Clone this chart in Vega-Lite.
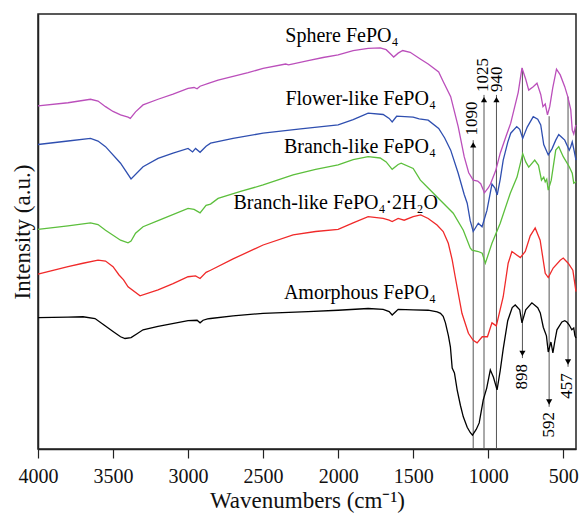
{
  "$schema": "https://vega.github.io/schema/vega-lite/v6.json",
  "autosize": {"type": "none"},
  "width": 538,
  "height": 435,
  "padding": {"left": 38, "top": 14, "right": 3, "bottom": 66},
  "background": "white",
  "config": {
    "view": {"stroke": "#222", "strokeWidth": 1.5},
    "font": "Liberation Serif"
  },
  "datasets": {
    "curves": [
      {"s":"Sphere","wn":4000,"v":78.9},{"s":"Sphere","wn":3800,"v":79.6},{"s":"Sphere","wn":3650,"v":80.4},{"s":"Sphere","wn":3600,"v":80.0},{"s":"Sphere","wn":3550,"v":78.7},{"s":"Sphere","wn":3500,"v":77.6},{"s":"Sphere","wn":3450,"v":76.8},{"s":"Sphere","wn":3400,"v":76.3},{"s":"Sphere","wn":3385,"v":76.0},{"s":"Sphere","wn":3350,"v":77.5},{"s":"Sphere","wn":3300,"v":79.1},{"s":"Sphere","wn":3200,"v":80.4},{"s":"Sphere","wn":3100,"v":81.6},{"s":"Sphere","wn":3000,"v":82.9},{"s":"Sphere","wn":2960,"v":83.1},{"s":"Sphere","wn":2940,"v":82.8},{"s":"Sphere","wn":2920,"v":83.4},{"s":"Sphere","wn":2860,"v":84.1},{"s":"Sphere","wn":2800,"v":84.8},{"s":"Sphere","wn":2600,"v":86.5},{"s":"Sphere","wn":2500,"v":87.5},{"s":"Sphere","wn":2350,"v":88.5},{"s":"Sphere","wn":2330,"v":88.3},{"s":"Sphere","wn":2200,"v":89.3},{"s":"Sphere","wn":2100,"v":90.0},{"s":"Sphere","wn":2000,"v":90.6},{"s":"Sphere","wn":1900,"v":91.6},{"s":"Sphere","wn":1800,"v":92.1},{"s":"Sphere","wn":1720,"v":92.2},{"s":"Sphere","wn":1680,"v":91.8},{"s":"Sphere","wn":1650,"v":90.8},{"s":"Sphere","wn":1630,"v":90.1},{"s":"Sphere","wn":1600,"v":91.0},{"s":"Sphere","wn":1570,"v":91.6},{"s":"Sphere","wn":1520,"v":91.2},{"s":"Sphere","wn":1450,"v":89.6},{"s":"Sphere","wn":1400,"v":88.5},{"s":"Sphere","wn":1330,"v":86.7},{"s":"Sphere","wn":1300,"v":84.5},{"s":"Sphere","wn":1250,"v":81.0},{"s":"Sphere","wn":1200,"v":74.1},{"s":"Sphere","wn":1160,"v":67.2},{"s":"Sphere","wn":1130,"v":63.5},{"s":"Sphere","wn":1100,"v":61.8},{"s":"Sphere","wn":1070,"v":61.6},{"s":"Sphere","wn":1050,"v":61.0},{"s":"Sphere","wn":1025,"v":58.9},{"s":"Sphere","wn":1000,"v":60.0},{"s":"Sphere","wn":985,"v":60.9},{"s":"Sphere","wn":950,"v":64.0},{"s":"Sphere","wn":920,"v":68.0},{"s":"Sphere","wn":880,"v":72.0},{"s":"Sphere","wn":850,"v":74.9},{"s":"Sphere","wn":800,"v":82.0},{"s":"Sphere","wn":775,"v":87.6},{"s":"Sphere","wn":750,"v":85.0},{"s":"Sphere","wn":730,"v":82.5},{"s":"Sphere","wn":700,"v":83.3},{"s":"Sphere","wn":675,"v":84.1},{"s":"Sphere","wn":650,"v":81.5},{"s":"Sphere","wn":635,"v":78.7},{"s":"Sphere","wn":620,"v":79.3},{"s":"Sphere","wn":605,"v":76.8},{"s":"Sphere","wn":590,"v":78.7},{"s":"Sphere","wn":570,"v":83.0},{"s":"Sphere","wn":545,"v":87.3},{"s":"Sphere","wn":520,"v":86.0},{"s":"Sphere","wn":490,"v":83.3},{"s":"Sphere","wn":470,"v":81.0},{"s":"Sphere","wn":450,"v":78.0},{"s":"Sphere","wn":440,"v":73.3},{"s":"Sphere","wn":430,"v":72.4},{"s":"Sphere","wn":420,"v":74.0},{"s":"Sphere","wn":415,"v":74.5},

      {"s":"Flower","wn":4000,"v":70.0},{"s":"Flower","wn":3800,"v":70.8},{"s":"Flower","wn":3650,"v":71.4},{"s":"Flower","wn":3600,"v":70.8},{"s":"Flower","wn":3550,"v":69.5},{"s":"Flower","wn":3450,"v":65.7},{"s":"Flower","wn":3380,"v":62.1},{"s":"Flower","wn":3300,"v":64.9},{"s":"Flower","wn":3200,"v":66.8},{"s":"Flower","wn":3100,"v":68.0},{"s":"Flower","wn":3000,"v":69.1},{"s":"Flower","wn":2970,"v":68.3},{"s":"Flower","wn":2950,"v":69.1},{"s":"Flower","wn":2920,"v":68.2},{"s":"Flower","wn":2880,"v":69.6},{"s":"Flower","wn":2850,"v":70.3},{"s":"Flower","wn":2700,"v":71.4},{"s":"Flower","wn":2500,"v":72.6},{"s":"Flower","wn":2250,"v":73.6},{"s":"Flower","wn":2000,"v":74.5},{"s":"Flower","wn":1900,"v":75.7},{"s":"Flower","wn":1800,"v":77.2},{"s":"Flower","wn":1700,"v":76.9},{"s":"Flower","wn":1660,"v":76.0},{"s":"Flower","wn":1640,"v":75.2},{"s":"Flower","wn":1610,"v":76.5},{"s":"Flower","wn":1500,"v":76.3},{"s":"Flower","wn":1460,"v":75.9},{"s":"Flower","wn":1400,"v":75.6},{"s":"Flower","wn":1330,"v":73.7},{"s":"Flower","wn":1290,"v":71.5},{"s":"Flower","wn":1250,"v":68.7},{"s":"Flower","wn":1200,"v":63.4},{"s":"Flower","wn":1160,"v":58.5},{"s":"Flower","wn":1140,"v":56.5},{"s":"Flower","wn":1120,"v":52.5},{"s":"Flower","wn":1100,"v":50.0},{"s":"Flower","wn":1066,"v":51.9},{"s":"Flower","wn":1041,"v":51.1},{"s":"Flower","wn":1008,"v":54.9},{"s":"Flower","wn":975,"v":60.9},{"s":"Flower","wn":955,"v":60.0},{"s":"Flower","wn":940,"v":58.4},{"s":"Flower","wn":920,"v":62.0},{"s":"Flower","wn":900,"v":66.4},{"s":"Flower","wn":870,"v":70.5},{"s":"Flower","wn":850,"v":72.6},{"s":"Flower","wn":810,"v":74.1},{"s":"Flower","wn":790,"v":73.5},{"s":"Flower","wn":770,"v":71.4},{"s":"Flower","wn":740,"v":74.0},{"s":"Flower","wn":700,"v":76.4},{"s":"Flower","wn":670,"v":75.8},{"s":"Flower","wn":650,"v":74.5},{"s":"Flower","wn":630,"v":70.0},{"s":"Flower","wn":600,"v":67.6},{"s":"Flower","wn":575,"v":69.0},{"s":"Flower","wn":550,"v":71.0},{"s":"Flower","wn":530,"v":72.3},{"s":"Flower","wn":505,"v":71.5},{"s":"Flower","wn":490,"v":71.0},{"s":"Flower","wn":460,"v":68.7},{"s":"Flower","wn":450,"v":69.5},{"s":"Flower","wn":440,"v":70.6},{"s":"Flower","wn":430,"v":69.0},{"s":"Flower","wn":415,"v":66.4},

      {"s":"Branch","wn":4000,"v":50.5},{"s":"Branch","wn":3800,"v":51.3},{"s":"Branch","wn":3650,"v":52.0},{"s":"Branch","wn":3600,"v":51.6},{"s":"Branch","wn":3550,"v":50.3},{"s":"Branch","wn":3450,"v":48.0},{"s":"Branch","wn":3400,"v":47.4},{"s":"Branch","wn":3380,"v":47.8},{"s":"Branch","wn":3350,"v":49.6},{"s":"Branch","wn":3300,"v":51.1},{"s":"Branch","wn":3200,"v":52.5},{"s":"Branch","wn":3000,"v":55.3},{"s":"Branch","wn":2960,"v":55.1},{"s":"Branch","wn":2920,"v":54.3},{"s":"Branch","wn":2880,"v":56.0},{"s":"Branch","wn":2850,"v":56.3},{"s":"Branch","wn":2800,"v":57.6},{"s":"Branch","wn":2650,"v":59.2},{"s":"Branch","wn":2500,"v":60.7},{"s":"Branch","wn":2300,"v":63.0},{"s":"Branch","wn":2150,"v":64.3},{"s":"Branch","wn":2000,"v":65.3},{"s":"Branch","wn":1900,"v":66.5},{"s":"Branch","wn":1800,"v":67.2},{"s":"Branch","wn":1720,"v":66.9},{"s":"Branch","wn":1680,"v":66.0},{"s":"Branch","wn":1640,"v":64.3},{"s":"Branch","wn":1600,"v":65.4},{"s":"Branch","wn":1580,"v":65.7},{"s":"Branch","wn":1500,"v":64.5},{"s":"Branch","wn":1452,"v":61.8},{"s":"Branch","wn":1400,"v":60.0},{"s":"Branch","wn":1319,"v":57.2},{"s":"Branch","wn":1233,"v":54.2},{"s":"Branch","wn":1166,"v":50.3},{"s":"Branch","wn":1120,"v":46.2},{"s":"Branch","wn":1108,"v":45.7},{"s":"Branch","wn":1066,"v":45.4},{"s":"Branch","wn":1040,"v":45.0},{"s":"Branch","wn":1019,"v":42.7},{"s":"Branch","wn":975,"v":47.3},{"s":"Branch","wn":920,"v":51.9},{"s":"Branch","wn":853,"v":58.8},{"s":"Branch","wn":808,"v":62.5},{"s":"Branch","wn":770,"v":67.9},{"s":"Branch","wn":750,"v":66.0},{"s":"Branch","wn":730,"v":64.8},{"s":"Branch","wn":690,"v":66.4},{"s":"Branch","wn":665,"v":65.2},{"s":"Branch","wn":645,"v":61.8},{"s":"Branch","wn":630,"v":62.5},{"s":"Branch","wn":620,"v":61.4},{"s":"Branch","wn":610,"v":62.0},{"s":"Branch","wn":600,"v":59.5},{"s":"Branch","wn":580,"v":61.8},{"s":"Branch","wn":550,"v":68.7},{"s":"Branch","wn":530,"v":69.5},{"s":"Branch","wn":500,"v":67.2},{"s":"Branch","wn":460,"v":64.9},{"s":"Branch","wn":440,"v":63.4},{"s":"Branch","wn":430,"v":61.1},{"s":"Branch","wn":420,"v":61.3},{"s":"Branch","wn":415,"v":61.5},

      {"s":"Dihydrate","wn":4000,"v":40.2},{"s":"Dihydrate","wn":3800,"v":41.9},{"s":"Dihydrate","wn":3700,"v":42.7},{"s":"Dihydrate","wn":3600,"v":43.4},{"s":"Dihydrate","wn":3550,"v":43.2},{"s":"Dihydrate","wn":3500,"v":41.9},{"s":"Dihydrate","wn":3460,"v":40.0},{"s":"Dihydrate","wn":3430,"v":38.9},{"s":"Dihydrate","wn":3400,"v":37.3},{"s":"Dihydrate","wn":3320,"v":35.2},{"s":"Dihydrate","wn":3200,"v":36.6},{"s":"Dihydrate","wn":3100,"v":38.0},{"s":"Dihydrate","wn":3000,"v":39.6},{"s":"Dihydrate","wn":2950,"v":39.8},{"s":"Dihydrate","wn":2920,"v":39.2},{"s":"Dihydrate","wn":2880,"v":40.6},{"s":"Dihydrate","wn":2850,"v":41.1},{"s":"Dihydrate","wn":2700,"v":43.7},{"s":"Dihydrate","wn":2500,"v":46.9},{"s":"Dihydrate","wn":2300,"v":49.2},{"s":"Dihydrate","wn":2150,"v":50.0},{"s":"Dihydrate","wn":2000,"v":50.5},{"s":"Dihydrate","wn":1900,"v":52.0},{"s":"Dihydrate","wn":1800,"v":53.4},{"s":"Dihydrate","wn":1700,"v":53.0},{"s":"Dihydrate","wn":1660,"v":52.6},{"s":"Dihydrate","wn":1640,"v":52.3},{"s":"Dihydrate","wn":1600,"v":53.0},{"s":"Dihydrate","wn":1560,"v":52.6},{"s":"Dihydrate","wn":1500,"v":53.4},{"s":"Dihydrate","wn":1450,"v":53.8},{"s":"Dihydrate","wn":1400,"v":53.0},{"s":"Dihydrate","wn":1341,"v":51.5},{"s":"Dihydrate","wn":1300,"v":50.0},{"s":"Dihydrate","wn":1266,"v":47.3},{"s":"Dihydrate","wn":1240,"v":43.5},{"s":"Dihydrate","wn":1220,"v":39.6},{"s":"Dihydrate","wn":1175,"v":31.2},{"s":"Dihydrate","wn":1132,"v":26.6},{"s":"Dihydrate","wn":1100,"v":25.0},{"s":"Dihydrate","wn":1074,"v":24.4},{"s":"Dihydrate","wn":1040,"v":25.8},{"s":"Dihydrate","wn":1005,"v":25.8},{"s":"Dihydrate","wn":975,"v":29.0},{"s":"Dihydrate","wn":946,"v":28.3},{"s":"Dihydrate","wn":900,"v":35.0},{"s":"Dihydrate","wn":867,"v":42.7},{"s":"Dihydrate","wn":842,"v":45.4},{"s":"Dihydrate","wn":786,"v":44.0},{"s":"Dihydrate","wn":753,"v":45.4},{"s":"Dihydrate","wn":720,"v":49.0},{"s":"Dihydrate","wn":687,"v":50.8},{"s":"Dihydrate","wn":654,"v":48.0},{"s":"Dihydrate","wn":620,"v":40.4},{"s":"Dihydrate","wn":600,"v":39.4},{"s":"Dihydrate","wn":567,"v":41.6},{"s":"Dihydrate","wn":520,"v":43.4},{"s":"Dihydrate","wn":500,"v":43.9},{"s":"Dihydrate","wn":467,"v":42.7},{"s":"Dihydrate","wn":436,"v":41.1},{"s":"Dihydrate","wn":415,"v":36.2},

      {"s":"Amorphous","wn":4000,"v":30.2},{"s":"Amorphous","wn":3800,"v":30.3},{"s":"Amorphous","wn":3700,"v":30.4},{"s":"Amorphous","wn":3620,"v":30.0},{"s":"Amorphous","wn":3560,"v":28.5},{"s":"Amorphous","wn":3500,"v":27.0},{"s":"Amorphous","wn":3450,"v":25.8},{"s":"Amorphous","wn":3420,"v":25.4},{"s":"Amorphous","wn":3380,"v":25.6},{"s":"Amorphous","wn":3340,"v":26.5},{"s":"Amorphous","wn":3300,"v":27.4},{"s":"Amorphous","wn":3200,"v":28.2},{"s":"Amorphous","wn":3000,"v":29.5},{"s":"Amorphous","wn":2940,"v":29.6},{"s":"Amorphous","wn":2920,"v":29.0},{"s":"Amorphous","wn":2900,"v":29.6},{"s":"Amorphous","wn":2870,"v":29.9},{"s":"Amorphous","wn":2850,"v":30.0},{"s":"Amorphous","wn":2700,"v":30.6},{"s":"Amorphous","wn":2500,"v":31.2},{"s":"Amorphous","wn":2200,"v":31.6},{"s":"Amorphous","wn":2000,"v":31.9},{"s":"Amorphous","wn":1800,"v":32.3},{"s":"Amorphous","wn":1700,"v":32.1},{"s":"Amorphous","wn":1660,"v":31.6},{"s":"Amorphous","wn":1640,"v":30.8},{"s":"Amorphous","wn":1610,"v":31.8},{"s":"Amorphous","wn":1600,"v":32.1},{"s":"Amorphous","wn":1500,"v":32.0},{"s":"Amorphous","wn":1400,"v":31.9},{"s":"Amorphous","wn":1340,"v":31.5},{"s":"Amorphous","wn":1318,"v":31.2},{"s":"Amorphous","wn":1300,"v":30.5},{"s":"Amorphous","wn":1285,"v":29.0},{"s":"Amorphous","wn":1265,"v":26.0},{"s":"Amorphous","wn":1252,"v":23.5},{"s":"Amorphous","wn":1240,"v":18.6},{"s":"Amorphous","wn":1225,"v":17.5},{"s":"Amorphous","wn":1207,"v":13.6},{"s":"Amorphous","wn":1185,"v":10.0},{"s":"Amorphous","wn":1166,"v":7.4},{"s":"Amorphous","wn":1140,"v":5.0},{"s":"Amorphous","wn":1120,"v":3.8},{"s":"Amorphous","wn":1105,"v":3.2},{"s":"Amorphous","wn":1080,"v":4.5},{"s":"Amorphous","wn":1060,"v":6.0},{"s":"Amorphous","wn":1053,"v":7.4},{"s":"Amorphous","wn":1033,"v":11.3},{"s":"Amorphous","wn":1010,"v":14.0},{"s":"Amorphous","wn":986,"v":18.2},{"s":"Amorphous","wn":965,"v":16.5},{"s":"Amorphous","wn":941,"v":13.6},{"s":"Amorphous","wn":920,"v":18.0},{"s":"Amorphous","wn":900,"v":23.0},{"s":"Amorphous","wn":870,"v":29.5},{"s":"Amorphous","wn":840,"v":32.5},{"s":"Amorphous","wn":820,"v":33.1},{"s":"Amorphous","wn":790,"v":32.0},{"s":"Amorphous","wn":775,"v":29.0},{"s":"Amorphous","wn":750,"v":32.0},{"s":"Amorphous","wn":709,"v":33.6},{"s":"Amorphous","wn":670,"v":32.5},{"s":"Amorphous","wn":653,"v":31.3},{"s":"Amorphous","wn":633,"v":28.0},{"s":"Amorphous","wn":612,"v":26.0},{"s":"Amorphous","wn":600,"v":22.3},{"s":"Amorphous","wn":582,"v":24.6},{"s":"Amorphous","wn":569,"v":22.1},{"s":"Amorphous","wn":555,"v":25.0},{"s":"Amorphous","wn":542,"v":27.4},{"s":"Amorphous","wn":509,"v":29.2},{"s":"Amorphous","wn":490,"v":29.5},{"s":"Amorphous","wn":476,"v":29.2},{"s":"Amorphous","wn":460,"v":28.5},{"s":"Amorphous","wn":443,"v":27.4},{"s":"Amorphous","wn":430,"v":27.8},{"s":"Amorphous","wn":422,"v":26.0},{"s":"Amorphous","wn":415,"v":25.5}
    ],
    "marks": [
      {"label":"1090","wn":1100,"y1":0,"y2":71.0,"ay":69.9,"shape":"triangle-up","lx":1106,"ly":76.0},
      {"label":"1025","wn":1028,"y1":0,"y2":81.4,"ay":80.3,"shape":"triangle-up","lx":1036,"ly":86.0},
      {"label":"940","wn":945,"y1":0,"y2":81.4,"ay":80.3,"shape":"triangle-up","lx":940,"ly":85.0},
      {"label":"898","wn":772,"y1":87.5,"y2":20.9,"ay":22.0,"shape":"triangle-down","lx":775,"ly":16.6},
      {"label":"592","wn":594,"y1":76.5,"y2":9.7,"ay":10.8,"shape":"triangle-down","lx":598,"ly":5.6},
      {"label":"457","wn":468,"y1":81.0,"y2":18.9,"ay":20.0,"shape":"triangle-down","lx":472,"ly":14.5}
    ],
    "names": [
      {"t":"Sphere FePO₄","wn":1975,"v":95.0},
      {"t":"Flower-like FePO₄","wn":1850,"v":80.4},
      {"t":"Branch-like FePO₄","wn":1855,"v":69.5},
      {"t":"Branch-like FePO₄·2H₂O","wn":2016,"v":56.6},
      {"t":"Amorphous FePO₄","wn":1855,"v":35.8}
    ]
  },
  "layer": [
    {
      "data": {"name": "marks"},
      "mark": {"type": "rule", "color": "#555", "strokeWidth": 1},
      "encoding": {
        "x": {"field": "wn", "type": "quantitative",
          "scale": {"domain": [415, 4000], "reverse": true, "nice": false, "zero": false},
          "axis": {
            "values": [4000,3750,3500,3250,3000,2750,2500,2250,2000,1750,1500,1250,1000,750,500],
            "format": "d",
            "labelExpr": "datum.value % 500 == 0 ? datum.label : ''",
            "labelFlush": false,
            "labelOverlap": false,
            "grid": false,
            "tickSize": {"condition": {"test": "datum.value % 500 == 0", "value": 9}, "value": 6},
            "tickColor": "#222", "tickWidth": 1.2, "domainColor": "#222", "domainWidth": 1.5,
            "labelFont": "Liberation Serif", "labelFontSize": 20, "labelColor": "#111", "labelPadding": 8,
            "title": "Wavenumbers (cm⁻¹)", "titleFont": "Liberation Serif", "titleFontSize": 23,
            "titleFontWeight": "normal", "titleColor": "#111", "titlePadding": 3
          }
        },
        "y": {"field": "y1", "type": "quantitative",
          "scale": {"domain": [0, 100], "nice": false, "zero": false},
          "axis": {
            "ticks": false, "labels": false, "grid": false, "domainColor": "#222", "domainWidth": 1.5,
            "title": "Intensity (a.u.)", "titleFont": "Liberation Serif", "titleFontSize": 23,
            "titleFontWeight": "normal", "titleColor": "#111", "titlePadding": 4
          }
        },
        "y2": {"field": "y2"}
      }
    },
    {
      "data": {"name": "curves"},
      "mark": {"type": "line", "strokeWidth": 1.3},
      "encoding": {
        "x": {"field": "wn", "type": "quantitative"},
        "y": {"field": "v", "type": "quantitative"},
        "color": {"field": "s", "type": "nominal",
          "scale": {"domain": ["Sphere","Flower","Branch","Dihydrate","Amorphous"],
                    "range": ["#bb4fbb","#2f4fb0","#5cbf3c","#f02a2a","#000000"]},
          "legend": null}
      }
    },
    {
      "data": {"name": "marks"},
      "mark": {"type": "point", "filled": true, "color": "#000", "size": 38, "opacity": 1},
      "encoding": {
        "x": {"field": "wn", "type": "quantitative"},
        "y": {"field": "ay", "type": "quantitative"},
        "shape": {"field": "shape", "type": "nominal", "scale": null}
      }
    },
    {
      "data": {"name": "marks"},
      "mark": {"type": "text", "angle": 270, "font": "Liberation Serif", "fontSize": 17, "color": "#000", "align": "center", "baseline": "middle"},
      "encoding": {
        "x": {"field": "lx", "type": "quantitative"},
        "y": {"field": "ly", "type": "quantitative"},
        "text": {"field": "label"}
      }
    },
    {
      "data": {"name": "names"},
      "mark": {"type": "text", "font": "Liberation Serif", "fontSize": 20, "color": "#000", "align": "center", "baseline": "middle"},
      "encoding": {
        "x": {"field": "wn", "type": "quantitative"},
        "y": {"field": "v", "type": "quantitative"},
        "text": {"field": "t"}
      }
    }
  ]
}
